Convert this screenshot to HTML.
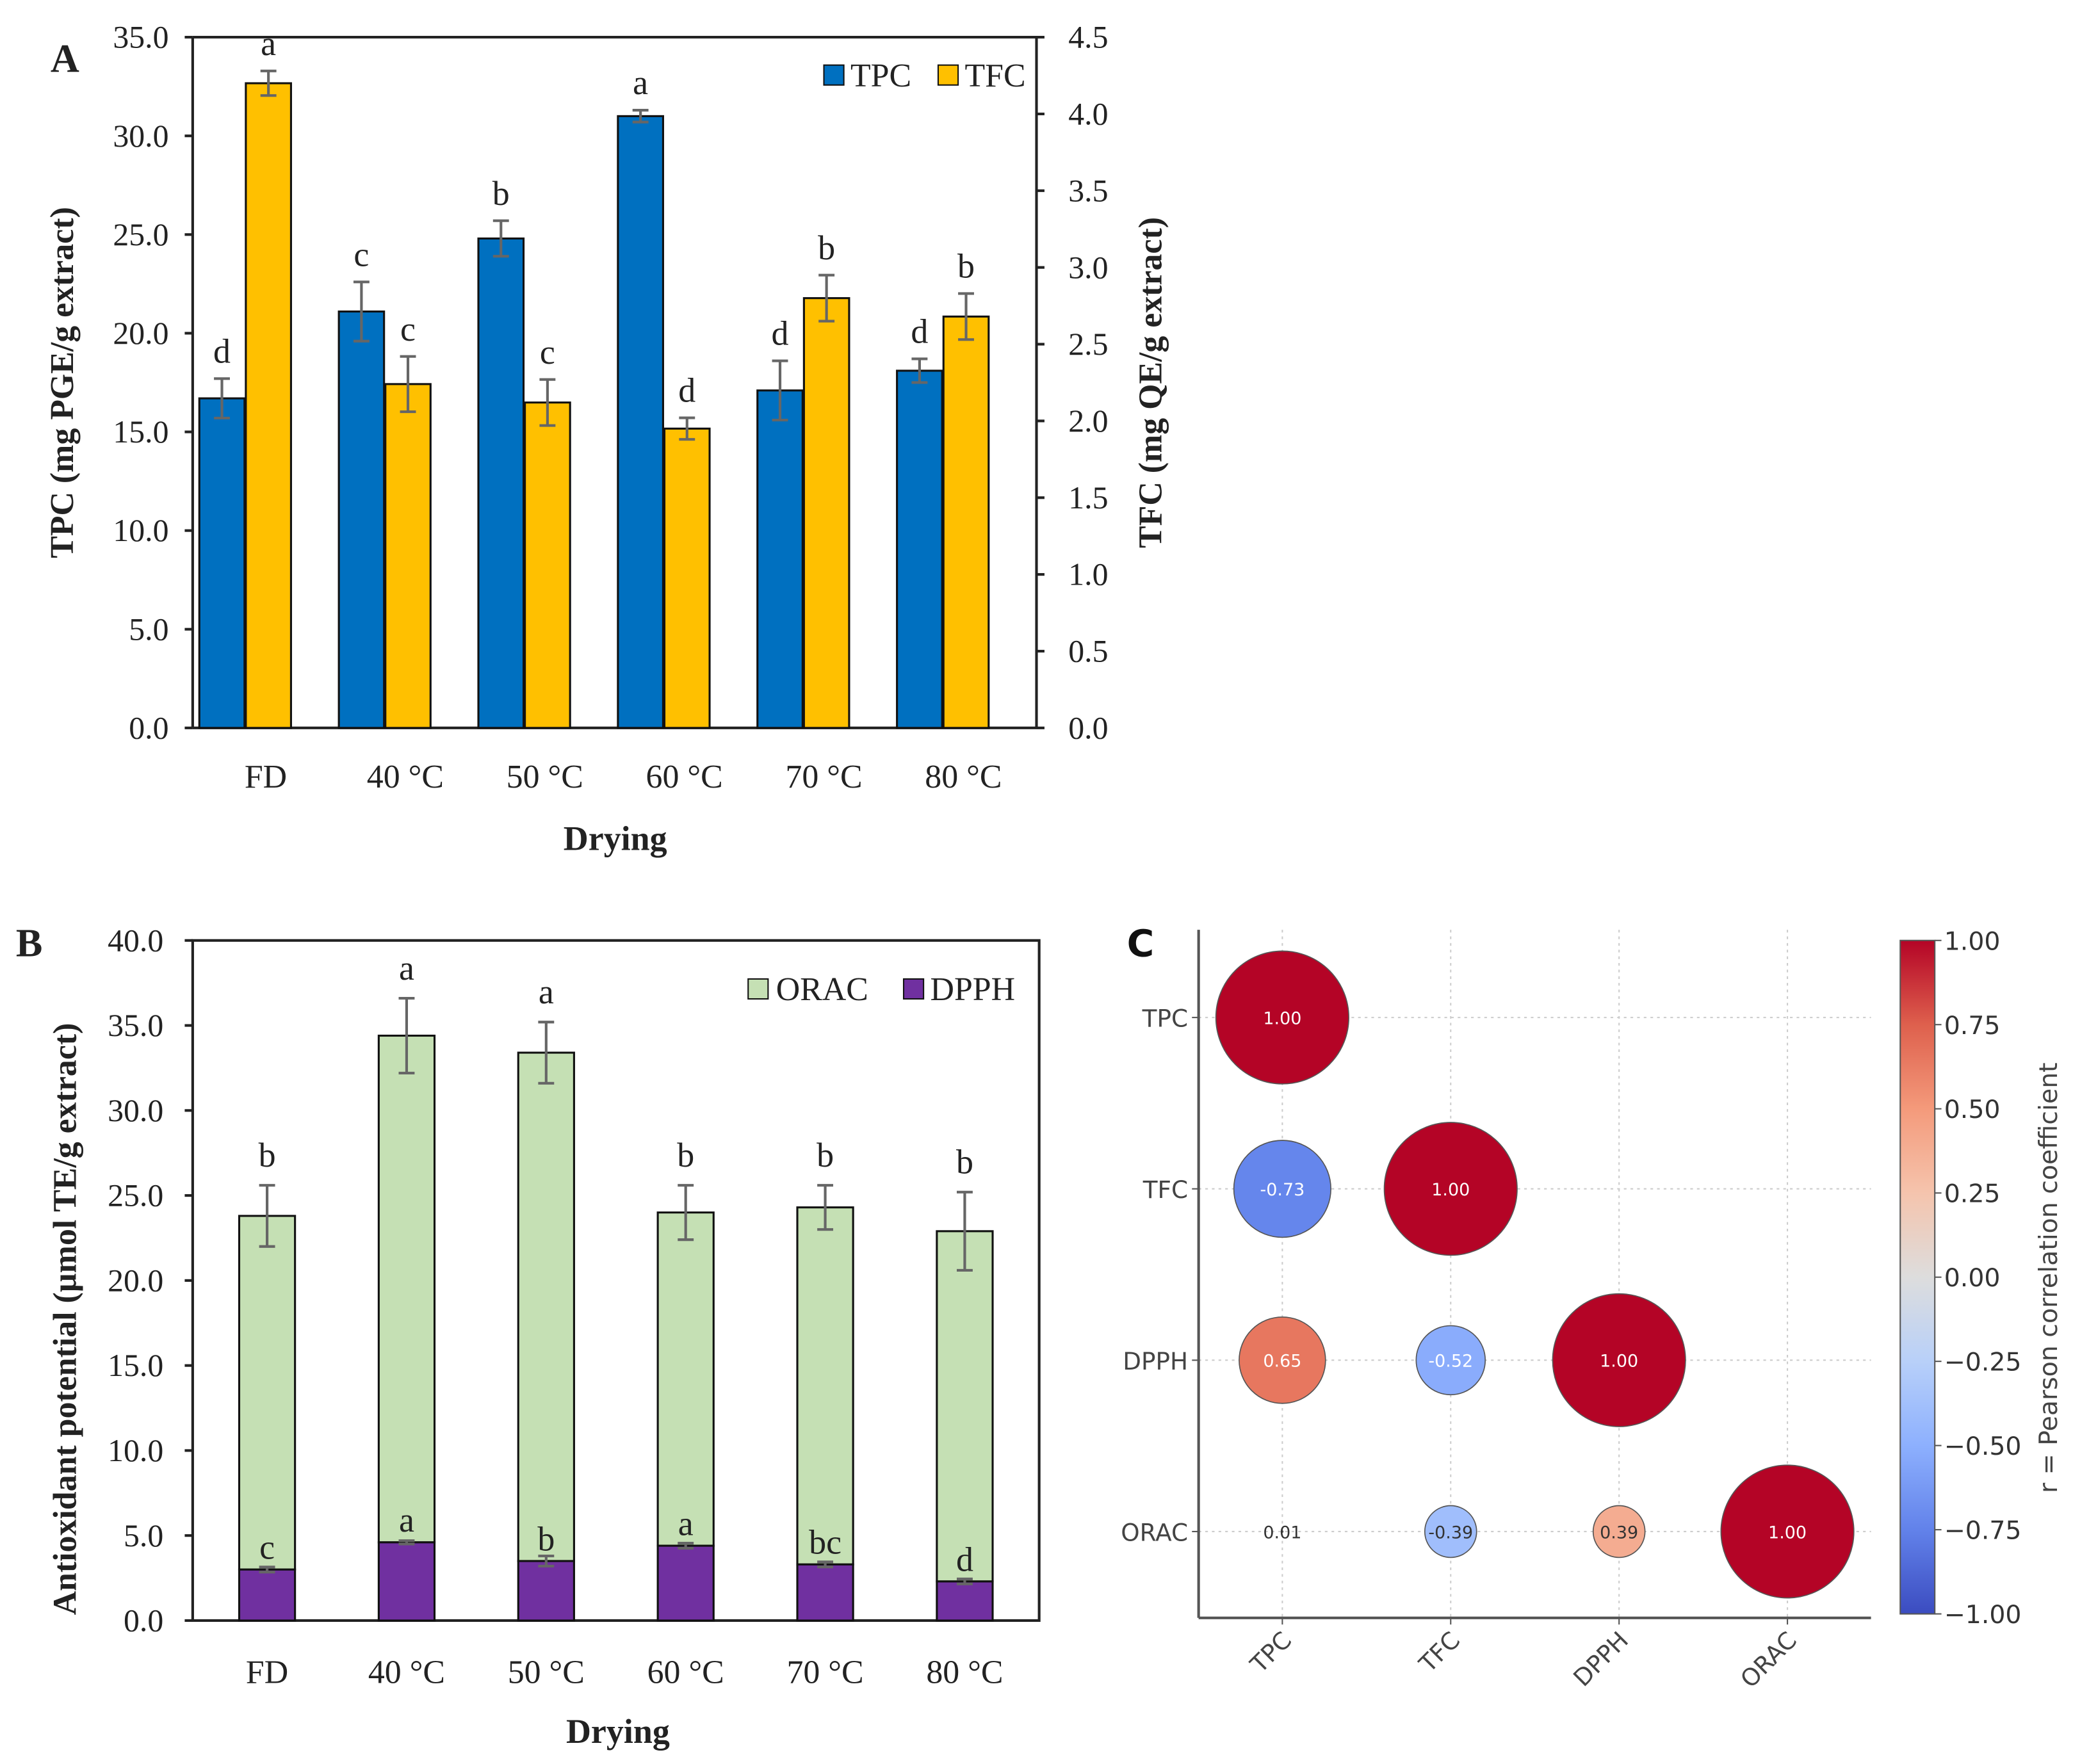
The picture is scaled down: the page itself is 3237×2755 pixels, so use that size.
<!DOCTYPE html>
<html><head><meta charset="utf-8"><style>html,body{margin:0;padding:0;background:#fff}svg{display:block}</style></head>
<body>
<svg id="fig" width="3237" height="2755" viewBox="0 0 1560 1328" preserveAspectRatio="none" xmlns="http://www.w3.org/2000/svg"></svg>
<script>
const cats=["FD","40 \u00B0C","50 \u00B0C","60 \u00B0C","70 \u00B0C","80 \u00B0C"];
const tpc=[16.7,21.1,24.8,31.0,17.1,18.1];
const tpcErr=[1.0,1.5,0.9,0.3,1.5,0.6];
const tpcLet=["d","c","b","a","d","d"];
const tfc=[4.2,2.24,2.12,1.95,2.8,2.68];
const tfcErr=[0.08,0.18,0.15,0.07,0.15,0.15];
const tfcLet=["a","c","c","d","b","b"];
const leftTicksA=[0,5,10,15,20,25,30,35];
const rightTicksA=[0,0.5,1,1.5,2,2.5,3,3.5,4,4.5];
const orac=[23.8,34.4,33.4,24.0,24.3,22.9];
const oracErr=[1.8,2.2,1.8,1.6,1.3,2.3];
const oracLet=["b","a","a","b","b","b"];
const dpph=[3.0,4.6,3.5,4.4,3.3,2.3];
const dpphErr=[0.15,0.1,0.3,0.15,0.15,0.15];
const dpphLet=["c","a","b","a","bc","d"];
const ticksB=[0,5,10,15,20,25,30,35,40];
const corrVars=["TPC","TFC","DPPH","ORAC"];
const corrRows=[[0,0,1.00],[1,0,-0.73],[1,1,1.00],[2,0,0.65],[2,1,-0.52],[2,2,1.00],[3,0,0.01],[3,1,-0.39],[3,2,0.39],[3,3,1.00]];
const cbTicks=[1,0.75,0.5,0.25,0,-0.25,-0.5,-0.75,-1];

const NS="http://www.w3.org/2000/svg";
const svg=document.getElementById('fig');
function mk(tag,attrs,parent,txt){const e=document.createElementNS(NS,tag);for(const k in attrs)e.setAttribute(k,attrs[k]);if(txt!==undefined)e.textContent=txt;(parent||svg).appendChild(e);return e;}
const SERIF='"Liberation Serif", serif', SANS='"DejaVu Sans", "Liberation Sans", sans-serif';

// ---------- Panel A ----------
const gA=mk('g',{});


const AL=145,AR=780,AT=28,AB=548;
const yA=v=>AB-(v/35)*(AB-AT), yA2=v=>AB-(v/4.5)*(AB-AT);
const xC=i=>185+i*105;
mk('line',{x1:AL,y1:AT,x2:AR,y2:AT,stroke:'#222','stroke-width':2},gA);
mk('line',{x1:AL,y1:AT,x2:AL,y2:AB,stroke:'#222','stroke-width':2},gA);
mk('line',{x1:AR,y1:AT,x2:AR,y2:AB,stroke:'#222','stroke-width':2},gA);
mk('line',{x1:AL,y1:AB,x2:AR,y2:AB,stroke:'#222','stroke-width':2},gA);
leftTicksA.forEach(t=>{mk('line',{x1:AL-6,y1:yA(t),x2:AL,y2:yA(t),stroke:'#222','stroke-width':2},gA);
 const tx=mk('text',{x:AL-18,y:yA(t)+8,'text-anchor':'end','font-family':SERIF,'font-size':24,fill:'#222'},gA,t.toFixed(1));
 });
rightTicksA.forEach(t=>{mk('line',{x1:AR,y1:yA2(t),x2:AR+6,y2:yA2(t),stroke:'#222','stroke-width':2},gA);
 const tx=mk('text',{x:AR+24,y:yA2(t)+8,'font-family':SERIF,'font-size':24,fill:'#222'},gA,t.toFixed(1));
 });
function errBar(g,x,y1,y2){mk('line',{x1:x,y1:y1,x2:x,y2:y2,stroke:'#666','stroke-width':2},g);
 mk('line',{x1:x-6,y1:y1,x2:x+6,y2:y1,stroke:'#666','stroke-width':2},g);mk('line',{x1:x-6,y1:y2,x2:x+6,y2:y2,stroke:'#666','stroke-width':2},g);}
cats.forEach((c,i)=>{
 const xb=xC(i)-35, xy=xC(i);
 const b=mk('rect',{x:xb,y:yA(tpc[i]),width:34,height:AB-yA(tpc[i]),fill:'#0070c0',stroke:'#111','stroke-width':1.5},gA);
 
 const b2=mk('rect',{x:xy,y:yA2(tfc[i]),width:34,height:AB-yA2(tfc[i]),fill:'#ffc000',stroke:'#111','stroke-width':1.5},gA);
 
 errBar(gA,xb+17,yA(tpc[i]+tpcErr[i]),yA(tpc[i]-tpcErr[i]));
 errBar(gA,xy+17,yA2(tfc[i]+tfcErr[i]),yA2(tfc[i]-tfcErr[i]));
 mk('text',{x:xb+17,y:yA(tpc[i]+tpcErr[i])-12,'text-anchor':'middle','font-family':SERIF,'font-size':26,fill:'#222'},gA,tpcLet[i]);
 mk('text',{x:xy+17,y:yA2(tfc[i]+tfcErr[i])-12,'text-anchor':'middle','font-family':SERIF,'font-size':26,fill:'#222'},gA,tfcLet[i]);
 const l=mk('text',{x:xC(i)+15,y:593,'text-anchor':'middle','font-family':SERIF,'font-size':25,fill:'#222'},gA,c);
 
});
let t=mk('text',{x:38,y:54,'font-family':SERIF,'font-size':30,'font-weight':'bold',fill:'#222'},gA,'A');
t=mk('text',{x:463,y:640,'text-anchor':'middle','font-family':SERIF,'font-size':26,'font-weight':'bold',fill:'#222'},gA,'Drying');
t=mk('text',{transform:'translate(55,288) rotate(-90)','text-anchor':'middle','font-family':SERIF,'font-size':25,'font-weight':'bold',fill:'#222'},gA,'TPC (mg PGE/g extract)');
t=mk('text',{transform:'translate(874,288) rotate(-90)','text-anchor':'middle','font-family':SERIF,'font-size':25,'font-weight':'bold',fill:'#222'},gA,'TFC (mg QE/g extract)');
mk('rect',{x:620,y:49,width:15,height:15,fill:'#0070c0',stroke:'#111'},gA);
t=mk('text',{x:640,y:65,'font-family':SERIF,'font-size':25,fill:'#222'},gA,'TPC');
mk('rect',{x:706,y:49,width:15,height:15,fill:'#ffc000',stroke:'#111'},gA);
t=mk('text',{x:726,y:65,'font-family':SERIF,'font-size':25,fill:'#222'},gA,'TFC');

// ---------- Panel B ----------
const gB=mk('g',{});


const BL=145,BR=782,BT=708,BB=1220;
const yB=v=>BB-(v/40)*(BB-BT);
const xB=i=>201+i*105;
mk('rect',{x:BL,y:BT,width:BR-BL,height:BB-BT,fill:'none',stroke:'#222','stroke-width':2},gB);
ticksB.forEach(v=>{mk('line',{x1:BL-6,y1:yB(v),x2:BL,y2:yB(v),stroke:'#222','stroke-width':2},gB);
 const tx=mk('text',{x:BL-22,y:yB(v)+8,'text-anchor':'end','font-family':SERIF,'font-size':24,fill:'#222'},gB,v.toFixed(1));
 });
cats.forEach((c,i)=>{
 const x=xB(i)-21;
 const g=mk('rect',{x:x,y:yB(orac[i]),width:42,height:yB(dpph[i])-yB(orac[i]),fill:'#c5e0b4',stroke:'#111','stroke-width':1.5},gB);
 
 const p=mk('rect',{x:x,y:yB(dpph[i]),width:42,height:BB-yB(dpph[i]),fill:'#7030a0',stroke:'#111','stroke-width':1.5},gB);
 
 errBar(gB,xB(i),yB(orac[i]+oracErr[i]),yB(orac[i]-oracErr[i]));
 errBar(gB,xB(i),yB(dpph[i]+dpphErr[i]),yB(dpph[i]-dpphErr[i]));
 mk('text',{x:xB(i),y:yB(orac[i]+oracErr[i])-14,'text-anchor':'middle','font-family':SERIF,'font-size':26,fill:'#222'},gB,oracLet[i]);
 mk('text',{x:xB(i),y:yB(dpph[i])-8,'text-anchor':'middle','font-family':SERIF,'font-size':26,fill:'#222'},gB,dpphLet[i]);
 const l=mk('text',{x:xB(i),y:1267,'text-anchor':'middle','font-family':SERIF,'font-size':25,fill:'#222'},gB,c);
 
});
t=mk('text',{x:12,y:720,'font-family':SERIF,'font-size':30,'font-weight':'bold',fill:'#222'},gB,'B');
t=mk('text',{x:465,y:1312,'text-anchor':'middle','font-family':SERIF,'font-size':26,'font-weight':'bold',fill:'#222'},gB,'Drying');
t=mk('text',{transform:'translate(57,993) rotate(-90)','text-anchor':'middle','font-family':SERIF,'font-size':25,'font-weight':'bold',fill:'#222'},gB,'Antioxidant potential (\u00B5mol TE/g  extract)');
mk('rect',{x:563,y:737,width:15,height:15,fill:'#c5e0b4',stroke:'#111'},gB);
t=mk('text',{x:584,y:753,'font-family':SERIF,'font-size':25,fill:'#222'},gB,'ORAC');
mk('rect',{x:680,y:737,width:15,height:15,fill:'#7030a0',stroke:'#111'},gB);
t=mk('text',{x:700,y:753,'font-family':SERIF,'font-size':25,fill:'#222'},gB,'DPPH');

// ---------- Panel C ----------
const gC=mk('g',{});


const CL=902,CR=1408,CT=700,CBo=1218;
const xCc=j=>965+j*126.7, yCc=i=>766+i*129;
const stops=[[-1,[59,76,192]],[-0.75,[98,130,234]],[-0.5,[141,176,254]],[-0.25,[184,208,249]],[0,[221,221,221]],[0.25,[245,196,173]],[0.5,[244,154,123]],[0.75,[222,96,77]],[1,[180,4,38]]];
function cw(v){for(let k=0;k<stops.length-1;k++){const a=stops[k],b=stops[k+1];if(v<=b[0]){const f=(v-a[0])/(b[0]-a[0]);return 'rgb('+a[1].map((c,m)=>Math.round(c+(b[1][m]-c)*f)).join(',')+')';}}return 'rgb(180,4,38)';}
corrVars.forEach((v,j)=>{
 mk('line',{x1:xCc(j),y1:CT,x2:xCc(j),y2:CBo,stroke:'#ccc','stroke-width':1,'stroke-dasharray':'2,3'},gC);
 mk('line',{x1:CL,y1:yCc(j),x2:CR,y2:yCc(j),stroke:'#ccc','stroke-width':1,'stroke-dasharray':'2,3'},gC);
 mk('line',{x1:CL-5,y1:yCc(j),x2:CL,y2:yCc(j),stroke:'#555'},gC);
 mk('line',{x1:xCc(j),y1:CBo,x2:xCc(j),y2:CBo+5,stroke:'#555'},gC);
 let r=mk('text',{x:CL-8,y:yCc(j)+7,'text-anchor':'end','font-family':SANS,'font-size':18,fill:'#444'},gC,v);
 
 r=mk('text',{transform:'translate('+(xCc(j)+8)+','+(CBo+18)+') rotate(-45)','text-anchor':'end','font-family':SANS,'font-size':18,fill:'#444'},gC,v);
 
});
mk('line',{x1:CL,y1:CT,x2:CL,y2:CBo,stroke:'#555','stroke-width':2},gC);
mk('line',{x1:CL,y1:CBo,x2:CR,y2:CBo,stroke:'#555','stroke-width':2},gC);
corrRows.forEach(([i,j,v])=>{
 const rad=50*Math.abs(v);
 const c=mk('ellipse',{cx:xCc(j),cy:yCc(i),rx:rad,ry:rad*1.0,fill:cw(v),stroke:'#555','stroke-width':0.8},gC);
 
 mk('text',{x:xCc(j),y:yCc(i)+5,'text-anchor':'middle','font-family':SANS,'font-size':13,fill:Math.abs(v)>0.45?'#fff':'#333'},gC,v.toFixed(2));
});
const defs=mk('defs',{});
const lg=mk('linearGradient',{id:'cb',x1:0,y1:1,x2:0,y2:0},defs);
stops.forEach(s=>mk('stop',{offset:((s[0]+1)/2),'stop-color':'rgb('+s[1].join(',')+')'},lg));
const CBT=708,CBB=1215;
const cb=mk('rect',{x:1430,y:CBT,width:26,height:CBB-CBT,fill:'url(#cb)',stroke:'#555'},gC);

cbTicks.forEach(v=>{const y=CBB-(v+1)/2*(CBB-CBT);
 mk('line',{x1:1456,y1:y,x2:1461,y2:y,stroke:'#555'},gC);
 const tx=mk('text',{x:1463,y:y+7,'font-family':SANS,'font-size':19,fill:'#333'},gC,(v<0?'\u2212':'')+Math.abs(v).toFixed(2));
 });
t=mk('text',{transform:'translate(1548,962) rotate(-90)','text-anchor':'middle','font-family':SANS,'font-size':19,fill:'#444'},gC,'r = Pearson correlation coefficient');
t=mk('text',{x:848,y:720,'font-family':SANS,'font-size':28,'font-weight':'bold',fill:'#111'},gC,'C');
</script>
</body></html>
